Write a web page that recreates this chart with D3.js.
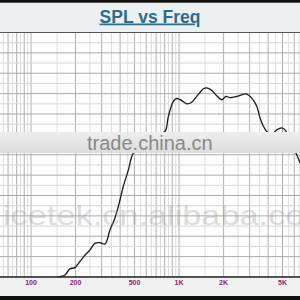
<!DOCTYPE html>
<html>
<head>
<meta charset="utf-8">
<script src="https://cdn.jsdelivr.net/npm/d3@7"></script>
<style>
  html, body { margin: 0; padding: 0; background: #fff; }
  svg { display: block; }
</style>
</head>
<body>
<div id="chart"></div>
<script>
// frequency response (Hz, dB)
const freqs = [150, 157, 170, 183, 198, 214, 232, 250, 271, 293, 316, 342, 369, 399, 420, 455, 491,
  589, 710, 804, 847, 915, 965, 1043, 1127, 1218, 1350, 1460, 1539, 1663, 1797, 1943, 2078, 2211,
  2454, 2867, 3099, 3350, 3526, 3712, 3913, 4183, 4570, 4940, 5200, 5620, 6240, 6570];
const spl = [50, 50.1, 50.5, 52.0, 52.3, 53.8, 55.4, 56.6, 58.3, 58.4, 58.1, 61.6, 64.5, 68.9, 72.2, 76.3, 80.4,
  83.2, 84.9, 85.7, 89.4, 93.1, 93.8, 93.3, 92.5, 92.9, 94.8, 96.2, 96.4, 95.8, 94.5, 93.5, 94.3, 94.0,
  94.3, 94.9, 93.9, 91.9, 89.0, 87.0, 85.7, 84.9, 86.1, 86.6, 86.1, 83.7, 80.0, 78.0];

const tickValues = [100, 200, 500, 1000, 2000, 5000];
const tickLabels = ["100", "200", "500", "1K", "2K", "5K"];
const decades = [10, 100, 1000, 10000];
const multiples = [1, 1.5, 2, 2.5, 3, 3.5, 4, 4.5, 5, 5.5, 6, 6.5, 7, 7.5, 8, 8.5, 9, 9.5];
const dbTicks = d3.range(50, 110.1, 2.5);

const width = 300, height = 300;
const plotTop = 32.5, plotBottom = 277;

const svg = d3.select("#chart").append("svg")
    .attr("width", width)
    .attr("height", height);

const x = d3.scaleLog().domain([100, 5000]).range([31, 282.5]);
const y = d3.scaleLinear().domain([50, 110]).range([plotBottom, plotTop]);

// header
svg.append("rect").attr("x", 0).attr("y", 0).attr("width", width).attr("height", plotTop)
    .attr("fill", "#edf0f1");
svg.append("rect").attr("x", 0).attr("y", 0).attr("width", width).attr("height", 2.7)
    .attr("fill", "#111");

svg.append("text")
    .attr("x", 150).attr("y", 22.5)
    .attr("text-anchor", "middle")
    .attr("font-family", "Liberation Sans, Arial, sans-serif")
    .attr("font-weight", "bold")
    .attr("font-size", 17.5)
    .attr("fill", "#2c6e8c")
    .attr("text-decoration", "underline")
    .text("SPL vs Freq");

// plot background
svg.append("rect").attr("x", 0).attr("y", plotTop).attr("width", width).attr("height", plotBottom - plotTop)
    .attr("fill", "#fff");

// vertical grid
const gridFreqs = [];
decades.forEach(d => multiples.forEach(m => gridFreqs.push({ f: d * m, major: m % 1 === 0 })));

svg.append("g").selectAll("line")
    .data(gridFreqs.filter(g => x(g.f) >= -1 && x(g.f) <= width + 1))
    .join("line")
    .attr("x1", d => x(d.f)).attr("x2", d => x(d.f))
    .attr("y1", plotTop).attr("y2", plotBottom)
    .attr("stroke", d => d.major ? "#b0b0b0" : "#dedede")
    .attr("stroke-width", 1);

// horizontal grid
svg.append("g").selectAll("line")
    .data(dbTicks)
    .join("line")
    .attr("x1", 0).attr("x2", width)
    .attr("y1", d => y(d)).attr("y2", d => y(d))
    .attr("stroke", d => d % 5 === 0 ? "#ababab" : "#d6d6d6")
    .attr("stroke-width", 1);

// header border
svg.append("line").attr("x1", 0).attr("x2", width).attr("y1", plotTop).attr("y2", plotTop)
    .attr("stroke", "#555").attr("stroke-width", 1.2);

// curve
const line = d3.line()
    .x((d, i) => x(freqs[i]))
    .y(d => y(d))
    .curve(d3.curveCatmullRom.alpha(0.5));

svg.append("path")
    .datum(spl)
    .attr("d", line)
    .attr("fill", "none")
    .attr("stroke", "#1a1a1a")
    .attr("stroke-width", 1.3);

// watermark band
const grad = svg.append("defs").append("linearGradient")
    .attr("id", "band").attr("x1", 0).attr("x2", 0).attr("y1", 0).attr("y2", 1);
grad.append("stop").attr("offset", "0%").attr("stop-color", "#eeeeee");
grad.append("stop").attr("offset", "100%").attr("stop-color", "#dcdcdc");

svg.append("rect").attr("x", 0).attr("y", 132).attr("width", width).attr("height", 21)
    .attr("fill", "url(#band)");

svg.append("text")
    .attr("x", 87).attr("y", 150)
    .attr("font-family", "Liberation Sans, Arial, sans-serif")
    .attr("font-size", 20)
    .attr("fill", "#888")
    .text("trade.china.cn");

svg.append("text")
    .attr("x", 3).attr("y", 225)
    .attr("font-family", "Liberation Sans, Arial, sans-serif")
    .attr("font-size", 28)
    .attr("textLength", 330)
    .attr("lengthAdjust", "spacingAndGlyphs")
    .attr("fill", "#a0a0a0")
    .attr("opacity", 0.35)
    .text("icetek.cn.alibaba.com");

// bottom axis area
svg.append("rect").attr("x", 0).attr("y", plotBottom).attr("width", width).attr("height", 20)
    .attr("fill", "#f1f1f1");
svg.append("line").attr("x1", 0).attr("x2", width).attr("y1", plotBottom).attr("y2", plotBottom)
    .attr("stroke", "#222").attr("stroke-width", 1.6);

svg.append("g").selectAll("text")
    .data(tickValues)
    .join("text")
    .attr("x", d => x(d))
    .attr("y", 285)
    .attr("text-anchor", "middle")
    .attr("font-family", "Liberation Sans, Arial, sans-serif")
    .attr("font-size", 7)
    .attr("font-weight", "bold")
    .attr("fill", "#8c1f70")
    .text((d, i) => tickLabels[i]);

svg.append("rect").attr("x", 0).attr("y", 296).attr("width", width).attr("height", 4)
    .attr("fill", "#111");
</script>
</body>
</html>
